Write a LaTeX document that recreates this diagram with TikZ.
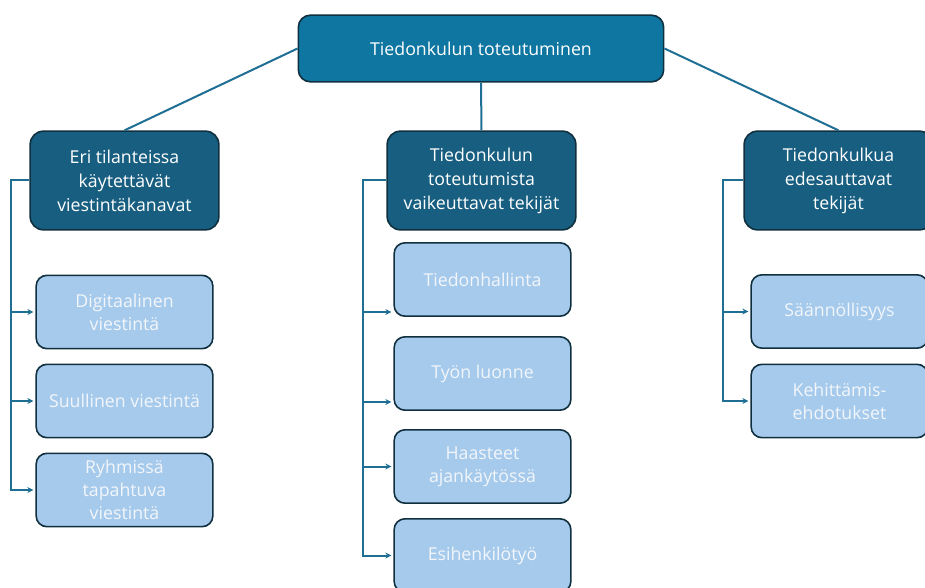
\documentclass[tikz,border=0pt]{standalone}
\usepackage{fontspec}
\setmainfont{Open Sans}
\usetikzlibrary{arrows.meta}
\definecolor{rootblue}{HTML}{0E76A0}
\definecolor{groupblue}{HTML}{185E80}
\definecolor{leafblue}{HTML}{A6CAEC}
\definecolor{edgedark}{HTML}{10303F}
\definecolor{linkblue}{HTML}{1F6E93}
\definecolor{leaftext}{HTML}{F2F6FA}

\begin{document}
\begin{tikzpicture}[x=0.75pt,y=-0.75pt,
    rootbox/.style={draw=edgedark, line width=1.2pt, fill=rootblue, rounded corners=9pt,
        minimum width=274pt, minimum height=50pt, text=white, font=\fontsize{13.3}{18}\selectfont},
    groupbox/.style={draw=edgedark, line width=1.2pt, fill=groupblue, rounded corners=10pt,
        minimum width=141.5pt, minimum height=74pt, align=center, text=white,
        font=\fontsize{13.3}{18}\selectfont},
    leafbox/.style={draw=edgedark, line width=1.2pt, fill=leafblue, rounded corners=8pt,
        minimum width=132.5pt, minimum height=55pt, align=center, text=leaftext,
        font=\fontsize{13.3}{17.3}\selectfont},
    link/.style={linkblue, line width=1.5pt},
    arr/.style={link, -{Stealth[length=4.5pt,width=4.5pt]}, shorten >=1.5pt}]
    \useasboundingbox (0,0) rectangle (925,588);
    % Top node
    \node[rootbox] (root) at (481,48.5) {Tiedonkulun toteutuminen};
    % Group nodes
    \node[groupbox] (chan) at (124.5,180.5) {Eri tilanteissa\\käytettävät\\viestintäkanavat};
    \node[groupbox] (fact) at (481.5,180.5) {Tiedonkulun\\toteutumista\\vaikeuttavat tekijät};
    \node[groupbox] (help) at (838.5,180.5) {Tiedonkulkua\\edesauttavat\\tekijät};
    % Links from top node
    \draw[link] (root.west) -- (chan.north);
    \draw[link] (root.south) -- (fact.north);
    \draw[link] (root.east) -- (help.north);
    % Left column
    \node[leafbox] (digi) at (124.5,312) {Digitaalinen\\viestintä};
    \node[leafbox] (oral) at (124.5,401) {Suullinen viestintä};
    \node[leafbox] (group) at (124.5,490) {Ryhmissä\\tapahtuva\\viestintä};
    \draw[arr] (chan.west) -- ++(-18,0) |- (digi.west);
    \draw[arr] (chan.west) -- ++(-18,0) |- (oral.west);
    \draw[arr] (chan.west) -- ++(-18,0) |- (group.west);
    % Middle column
    \node[leafbox] (info) at (482.5,279.5) {Tiedonhallinta};
    \node[leafbox] (work) at (482.5,373.5) {Työn luonne};
    \node[leafbox] (time) at (482.5,466.5) {Haasteet\\ajankäytössä};
    \node[leafbox] (lead) at (482.5,555.5) {Esihenkilötyö};
    \draw[arr] (fact.west) -- ++(-23,0) |- ([yshift=3.75pt]info.south west);
    \draw[arr] (fact.west) -- ++(-23,0) |- ([yshift=6.75pt]work.south west);
    \draw[arr] (fact.west) -- ++(-23,0) |- (time.west);
    \draw[arr] (fact.west) -- ++(-23,0) |- (lead.west);
    % Right column
    \node[leafbox] (regular) at (839.5,311.5) {Säännöllisyys};
    \node[leafbox] (ideas) at (839.5,401) {Kehittämis-\\ehdotukset};
    \draw[arr] (help.west) -- ++(-20,0) |- (regular.west);
    \draw[arr] (help.west) -- ++(-20,0) |- (ideas.west);
\end{tikzpicture}
\end{document}
